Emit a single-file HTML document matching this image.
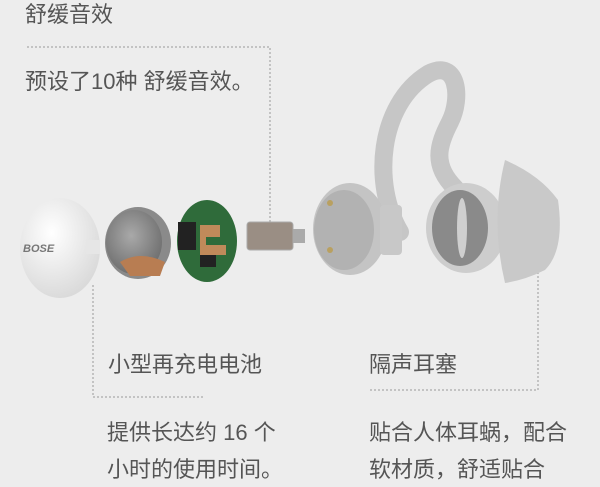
<!DOCTYPE html>
<html><head><meta charset="utf-8"><style>
html,body{margin:0;padding:0;background:#ededed}
body{width:600px;height:487px;position:relative;overflow:hidden;font-family:"Liberation Sans","Noto Sans CJK SC",sans-serif;color:#555}
.t{position:absolute;white-space:nowrap;font-size:22px;line-height:1}
</style></head><body>
<svg width="600" height="487" style="position:absolute;left:0;top:0">
<defs>
<radialGradient id="w" cx="40%" cy="35%" r="70%"><stop offset="0" stop-color="#fff"/><stop offset="1" stop-color="#d8d8d8"/></radialGradient>
<radialGradient id="b" cx="45%" cy="40%" r="60%"><stop offset="0" stop-color="#a9a9a9"/><stop offset="1" stop-color="#707070"/></radialGradient>
</defs>
<g stroke="#999" stroke-width="1" stroke-dasharray="2,2" fill="none">
<path d="M27 47H270V222"/>
<path d="M93 285V397H205"/>
<path d="M370 390H538V268"/>
</g>
<!-- earbud -->
<ellipse cx="60" cy="248" rx="40" ry="50" fill="url(#w)"/>
<rect x="86" y="240" width="14" height="14" fill="#e6e6e6"/>
<text x="23" y="252" font-size="11" font-weight="bold" font-style="italic" fill="#777" font-family="Liberation Sans">BOSE</text>
<!-- battery -->
<ellipse cx="138" cy="243" rx="33" ry="36" fill="#8a8a8a"/>
<ellipse cx="134" cy="242" rx="28" ry="32" fill="url(#b)"/>
<path d="M120 262 Q140 250 165 262 L160 276 L130 276Z" fill="#b87d52"/>
<!-- pcb -->
<ellipse cx="207" cy="241" rx="30" ry="41" fill="#2f6b3a"/>
<rect x="178" y="222" width="18" height="28" fill="#222"/>
<rect x="200" y="245" width="16" height="22" fill="#222"/>
<path d="M200 225h20v12h-14v8h20v10h-26z" fill="#c08a5a"/>
<!-- driver -->
<rect x="247" y="222" width="46" height="28" rx="3" fill="#9a8e84" stroke="#aaa"/>
<rect x="293" y="229" width="12" height="14" fill="#aaa"/>
<!-- hook -->
<path d="M400 232 C372 185 378 105 428 74 C458 58 462 98 450 122 C438 145 432 165 455 188" fill="none" stroke="#c6c6c6" stroke-width="18" stroke-linecap="round"/>
<!-- housing -->
<ellipse cx="350" cy="229" rx="37" ry="46" fill="#c4c4c4"/>
<ellipse cx="344" cy="230" rx="30" ry="40" fill="#b2b2b2"/>
<rect x="380" y="205" width="22" height="50" rx="4" fill="#c8c8c8"/>
<circle cx="330" cy="203" r="3" fill="#b9a060"/><circle cx="330" cy="250" r="3" fill="#b9a060"/>
<!-- ball -->
<ellipse cx="466" cy="228" rx="40" ry="45" fill="#cdcdcd"/>
<ellipse cx="460" cy="228" rx="28" ry="38" fill="#8a8a8a"/>
<ellipse cx="462" cy="228" rx="5" ry="30" fill="#cfcfcf"/>
<!-- cone -->
<path d="M505 160 Q540 175 558 200 Q565 250 545 270 Q525 280 505 283 Q490 220 505 160Z" fill="#c9c9c9"/>
</svg>
<div class="t" style="left:25px;top:4px">舒缓音效</div>
<div class="t" style="left:25px;top:71px">预设了10种 舒缓音效。</div>
<div class="t" style="left:108px;top:354px">小型再充电电池</div>
<div class="t" style="left:369px;top:354px">隔声耳塞</div>
<div class="t" style="left:107px;top:422px">提供长达约 16 个</div>
<div class="t" style="left:107px;top:459px">小时的使用时间。</div>
<div class="t" style="left:369px;top:422px">贴合人体耳蜗，配合</div>
<div class="t" style="left:369px;top:459px">软材质，舒适贴合</div>
</body></html>
